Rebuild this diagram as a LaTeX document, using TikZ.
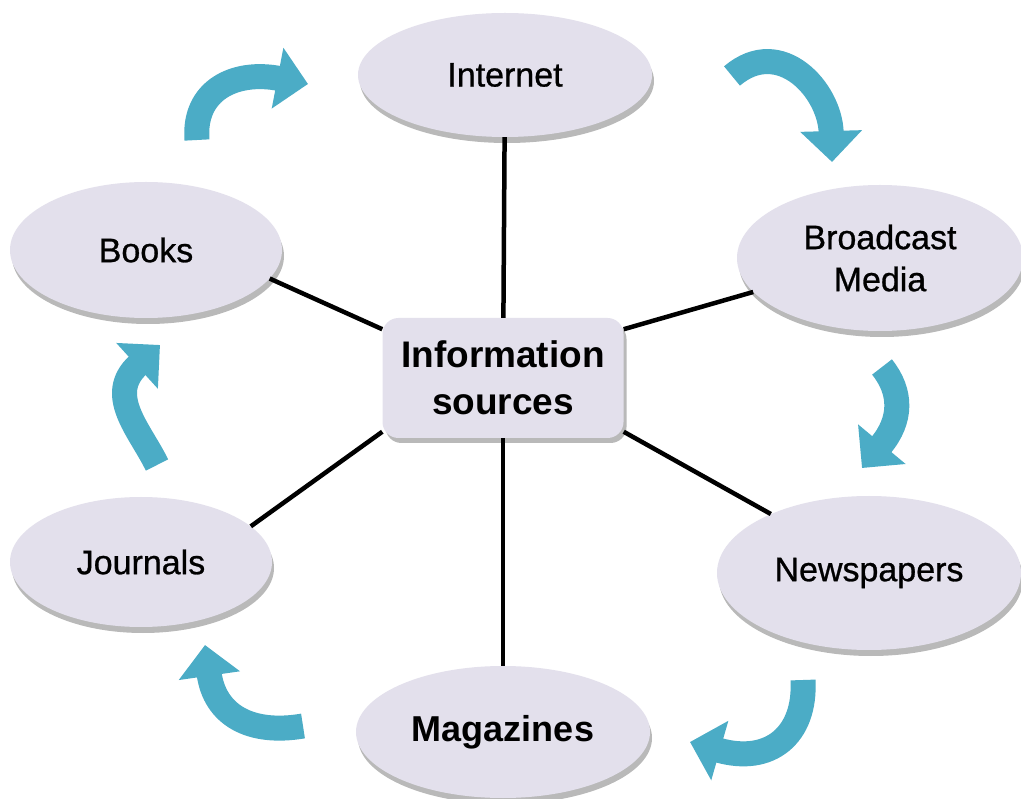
\documentclass[tikz,border=0pt]{standalone}
\usepackage{fontspec}
\setmainfont{Liberation Sans}
\usetikzlibrary{shapes.geometric,arrows.meta,shadows}
\definecolor{lav}{RGB}{227,224,236}
\definecolor{teal}{RGB}{75,172,198}
\begin{document}
\begin{tikzpicture}[x=1pt,y=-1pt,
  oval/.style={ellipse,fill=lav,inner sep=0pt,align=center,
    font=\fontsize{34}{42}\selectfont\addfontfeature{FakeBold=0.8},
    drop shadow={shadow xshift=2pt,shadow yshift=-6pt,fill=black!50,opacity=0.55}},
  hub/.style={rectangle,rounded corners=16pt,fill=lav,inner sep=0pt,align=center,
    minimum width=241pt,minimum height=120pt,
    font=\bfseries\fontsize{37}{47}\selectfont,
    drop shadow={shadow xshift=3pt,shadow yshift=-5pt,fill=black!50,opacity=0.55}},
  spoke/.style={line width=4.5pt,black},
  cyc/.style={line width=25pt,teal,-{Triangle[length=31pt,width=60pt]}}
]
\useasboundingbox (0,0) rectangle (1021,799);
\fill[white] (0,0) rectangle (1021,799);

% nodes
\node[oval,minimum width=294pt,minimum height=124pt] (internet) at (505,75) {Internet};
\node[oval,minimum width=272pt,minimum height=136pt] (books) at (146,250) {Books};
\node[oval,minimum width=286pt,minimum height=146pt] (broadcast) at (880,258) {Broadcast\\Media};
\node[oval,minimum width=262pt,minimum height=130pt] (journals) at (141,562) {Journals};
\node[oval,minimum width=304pt,minimum height=154pt] (newspapers) at (869,573) {Newspapers};
\node[oval,minimum width=294pt,minimum height=132pt,font=\bfseries\fontsize{36}{42}\selectfont] (magazines) at (503,732) {Magazines};
\node[hub] (info) at (503,378) {Information\\sources};

% spokes
\draw[spoke] (internet) -- (info);
\draw[spoke] (info) -- (magazines);
\draw[spoke] (books.-13) -- (info.158);
\draw[spoke] (broadcast.195) -- (info.22);
\draw[spoke] (journals.18) -- (info.204);
\draw[spoke] (newspapers.149) -- (info.-24);

% cycle arrows
\draw[cyc] (197,140) .. controls (193,90) and (235,70) .. (308,84);
\draw[cyc] (732,76) .. controls (780,35) and (830,90) .. (832,162);
\draw[cyc] (882,367) .. controls (902,392) and (902,420) .. (862,468);
\draw[cyc] (803,680) .. controls (806,735) and (770,765) .. (690,742);
\draw[cyc] (303,726) .. controls (250,735) and (215,715) .. (205,645);
\draw[cyc] (157,465) .. controls (140,430) and (105,395) .. (160,345);
\end{tikzpicture}
\end{document}
